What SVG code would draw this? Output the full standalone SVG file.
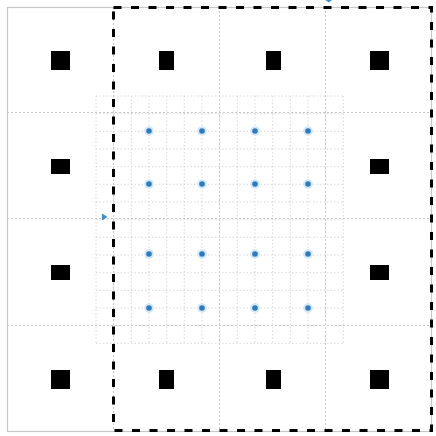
<svg xmlns="http://www.w3.org/2000/svg" width="436" height="436" viewBox="0 0 436 436">
<style>
.fine{stroke:#cfcfcf;stroke-width:0.8;stroke-dasharray:1.5 2;fill:none}
.quad{stroke:#c8c8c8;stroke-width:1;stroke-dasharray:2 2;fill:none}
.blk{fill:#000}
.dot{fill:#2f7bbf;stroke:#d3e8f8;stroke-width:2}
.tri{fill:#3b8fd0}
</style>
<rect width="436" height="436" fill="#fff"/>
<rect x="7.5" y="7.5" width="424" height="424" fill="none" stroke="#c8c8c8" stroke-width="1.2"/>
<g id="quarter-grid">
<path class="quad" d="M113.5 7V432M219.5 7V432M325.5 7V432M7 112.5H432M7 218.5H432M7 325.5H432"/>
</g>
<g id="fine-grid">
<path class="fine" d="M96 96V343M113.7 96V343M131.3 96V343M149 96V343M166.7 96V343M184.3 96V343M202 96V343M219.7 96V343M237.3 96V343M255 96V343M272.7 96V343M290.3 96V343M308 96V343M325.7 96V343M343.3 96V343"/>
<path class="fine" d="M96 96H343M96 113.7H343M96 131.3H343M96 149H343M96 166.7H343M96 184.3H343M96 202H343M96 219.7H343M96 237.3H343M96 255H343M96 272.7H343M96 290.3H343M96 308H343M96 325.7H343M96 343.3H343"/>
</g>
<g id="blocks">
<rect id="b11" class="blk" x="51" y="51" width="19" height="19"/>
<rect id="b12" class="blk" x="159" y="51" width="15" height="19"/>
<rect id="b13" class="blk" x="266" y="51" width="15" height="19"/>
<rect id="b14" class="blk" x="370" y="51" width="19" height="19"/>
<rect id="b21" class="blk" x="51" y="159" width="19" height="15"/>
<rect id="b24" class="blk" x="370" y="159" width="19" height="15"/>
<rect id="b31" class="blk" x="51" y="265" width="19" height="15"/>
<rect id="b34" class="blk" x="370" y="265" width="19" height="15"/>
<rect id="b41" class="blk" x="51" y="370" width="19" height="19"/>
<rect id="b42" class="blk" x="159" y="370" width="15" height="19"/>
<rect id="b43" class="blk" x="266" y="370" width="15" height="19"/>
<rect id="b44" class="blk" x="370" y="370" width="19" height="19"/>
</g>
<g id="dots">
<circle class="dot" cx="149" cy="131" r="3.8"/><circle class="dot" cx="202" cy="131" r="3.8"/><circle class="dot" cx="255" cy="131" r="3.8"/><circle class="dot" cx="308" cy="131" r="3.8"/>
<circle class="dot" cx="149" cy="184" r="3.8"/><circle class="dot" cx="202" cy="184" r="3.8"/><circle class="dot" cx="255" cy="184" r="3.8"/><circle class="dot" cx="308" cy="184" r="3.8"/>
<circle class="dot" cx="149" cy="254" r="3.8"/><circle class="dot" cx="202" cy="254" r="3.8"/><circle class="dot" cx="255" cy="254" r="3.8"/><circle class="dot" cx="308" cy="254" r="3.8"/>
<circle class="dot" cx="149" cy="308" r="3.8"/><circle class="dot" cx="202" cy="308" r="3.8"/><circle class="dot" cx="255" cy="308" r="3.8"/><circle class="dot" cx="308" cy="308" r="3.8"/>
</g>
<g id="markers">
<path class="tri" d="M102 213.5L107.5 217L102 220.5Z"/>
<path class="tri" d="M325.5 0L332 0L328.7 2.5Z"/>
</g>
<g id="connectors">
<rect x="113.5" y="7.5" width="318" height="423" fill="none" stroke="#000" stroke-width="3" stroke-dasharray="8 9.5"/>
</g>
</svg>
